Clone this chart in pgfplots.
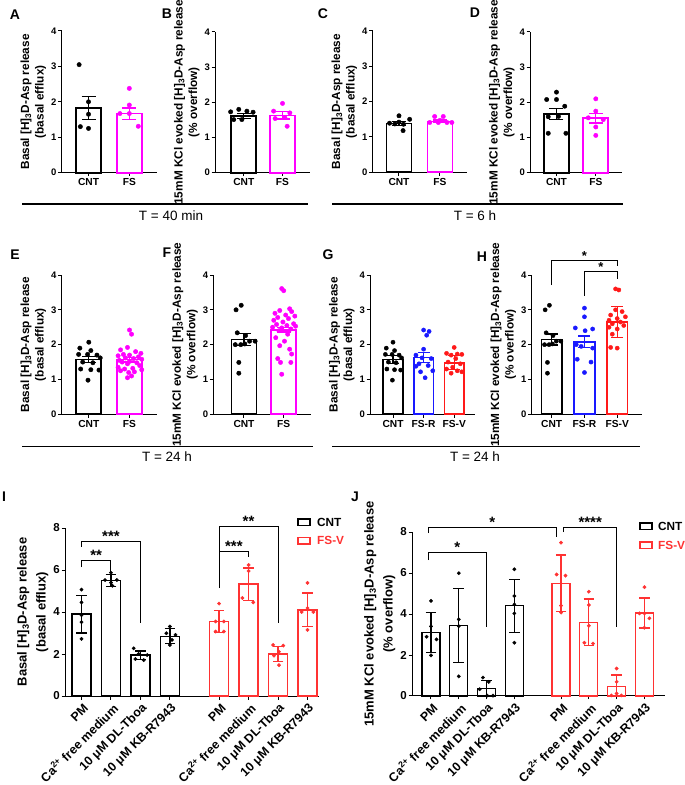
\documentclass[border=0pt]{standalone}
\usepackage{pgfplots}
\pgfplotsset{compat=1.18}
\usepackage{fontspec}
\setmainfont{Liberation Sans}
\definecolor{mag}{RGB}{255,0,255}
\definecolor{myblue}{RGB}{25,25,255}
\definecolor{myred}{RGB}{255,25,25}
\definecolor{myred2}{RGB}{255,50,50}
\newcommand{\fs}[2]{\fontsize{#1}{#2}\selectfont}
\newcommand{\basal}{Basal [H]\textsubscript{3}D-Asp release\\(basal efflux)}
\newcommand{\kcl}{15mM KCl evoked [H]\textsubscript{3}D-Asp release\\(\% overflow)}
\pgfplotsset{
  pp/.style={scale only axis, clip=false, anchor=south west,
    axis lines=left, axis line style={-, line width=1pt},
    ymin=0, ymax=4, ytick={0,1,2,3,4},
    tick align=outside, major tick length=3.5pt,
    tick style={black, line width=1pt},
    /pgf/number format/assume math mode=true,
    yticklabel style={font=\bfseries\fs{9.5}{10}, inner sep=1.5pt},
    xticklabel style={font=\bfseries\fs{10.2}{11}, inner sep=2pt},
    ylabel style={font=\bfseries\fs{11.8}{14.5}, align=center},
  },
  big/.style={ymax=8, ytick={0,2,4,6,8},
    yticklabel style={font=\bfseries\fs{11.5}{12}, inner sep=1.5pt},
    xticklabel style={font=\bfseries\fs{12.4}{14}, rotate=45, anchor=east, inner sep=0pt, yshift=-8pt, xshift=-1.5pt},
    ylabel style={font=\bfseries\fs{13}{19}, align=center},
    xtick={0,1,2,3,4.67,5.67,6.67,7.67},
    xticklabels={PM, Ca\textsuperscript{2+} free medium, 10 μM DL-Tboa, 10 μM KB-R7943,
                 PM, Ca\textsuperscript{2+} free medium, 10 μM DL-Tboa, 10 μM KB-R7943},
  },
  bb/.style n args={4}{ybar, bar shift=0pt, bar width=#2, draw=#1, fill=white, line width=#3,
    error bars/.cd, y dir=both, y explicit,
    error bar style={line width=1.3pt, draw=#1},
    error mark options={rotate=90, mark size=#4, line width=1.3pt, draw=#1}},
  dots/.style 2 args={only marks, mark=*, mark size=#2, color=#1},
}
\begin{document}
\begin{tikzpicture}[x=1pt,y=1pt]
\useasboundingbox (0,0) rectangle (685,785);

% ---------- letters and time lines ----------
\begin{scope}[every node/.style={font=\bfseries\fs{14}{16}}]
\node at (15,770) {A};
\node at (167,771) {B};
\node at (323,771) {C};
\node at (475,772) {D};
\node at (15,530) {E};
\node at (167,532) {F};
\node at (328,530) {G};
\node at (482,528) {H};
\node at (4,288) {I};
\node at (355,288) {J};
\end{scope}
\draw[line width=1.3pt] (22,581) -- (308,581);
\draw[line width=1.3pt] (332,581) -- (623,581);
\draw[line width=1.3pt] (22,338.3) -- (313,338.3);
\draw[line width=1.3pt] (332,338.3) -- (640,338.3);
\begin{scope}[every node/.style={font=\fs{13.5}{16}}]
\node at (171,569) {T = 40 min};
\node at (475,569) {T = 6 h};
\node at (167,328) {T = 24 h};
\node at (475,328) {T = 24 h};
\end{scope}

% ---------- A ----------
\begin{axis}[pp, at={(61.7pt,612.3pt)}, width=95pt, height=141.7pt, xmin=0.343, xmax=2.671,
  xtick={1,2}, xticklabels={CNT,FS}, ylabel={\basal}]
\addplot[bb={black}{25pt}{1.7pt}{7pt}] coordinates {(1,1.83) +- (0,0.33)};
\addplot[bb={mag}{25pt}{1.7pt}{7pt}] coordinates {(2,1.67) +- (0,0.16)};
\addplot[dots={black}{2.2pt}] coordinates {(0.77,3.05)(1,2.0)(1,1.65)(0.8,1.3)(1,1.25)};
\addplot[dots={mag}{2.2pt}] coordinates {(2,2.38)(2,1.91)(1.77,1.67)(2,1.67)(2.22,1.31)};
\end{axis}

% ---------- B ----------
\begin{axis}[pp, at={(215pt,612.3pt)}, width=95pt, height=140.7pt, xmin=0.256, xmax=2.71,
  xtick={1,2}, xticklabels={CNT,FS}, ylabel={\kcl}]
\addplot[bb={black}{25pt}{1.7pt}{7pt}] coordinates {(1,1.61) +- (0,0.07)};
\addplot[bb={mag}{25pt}{1.7pt}{7pt}] coordinates {(2,1.63) +- (0,0.1)};
\addplot[dots={black}{2.2pt}] coordinates {(0.87,1.8)(0.66,1.73)(1.08,1.75)(0.74,1.51)(0.95,1.51)(1.24,1.72)};
\addplot[dots={mag}{2.2pt}] coordinates {(2,1.97)(1.77,1.75)(2.19,1.7)(1.81,1.54)(2.06,1.57)(2.12,1.32)};
\end{axis}

% ---------- C ----------
\begin{axis}[pp, at={(372.7pt,612.7pt)}, width=94.3pt, height=141.3pt, xmin=0.359, xmax=2.659,
  xtick={1,2}, xticklabels={CNT,FS}, ylabel={\basal}]
\addplot[bb={black}{25pt}{1.7pt}{7pt}] coordinates {(1,1.38) +- (0,0.05)};
\addplot[bb={mag}{25pt}{1.7pt}{7pt}] coordinates {(2,1.44) +- (0,0.04)};
\addplot[dots={black}{2.2pt}] coordinates {(1,1.6)(0.77,1.39)(0.9,1.37)(1.26,1.5)(1.11,1.36)(1.1,1.18)(1.0,1.42)};
\addplot[dots={mag}{2.2pt}] coordinates {(1.87,1.58)(2.08,1.58)(1.75,1.41)(1.96,1.41)(2.17,1.41)(2.29,1.41)(2.0,1.47)};
\end{axis}

% ---------- D ----------
\begin{axis}[pp, at={(530pt,612.3pt)}, width=92pt, height=140.7pt, xmin=0.326, xmax=2.667,
  xtick={1,2}, xticklabels={CNT,FS}, ylabel={\kcl}]
\addplot[bb={black}{25pt}{1.7pt}{7pt}] coordinates {(1,1.67) +- (0,0.15)};
\addplot[bb={mag}{25pt}{1.7pt}{7pt}] coordinates {(2,1.55) +- (0,0.14)};
\addplot[dots={black}{2.2pt}] coordinates {(1,2.29)(0.75,2.08)(1,2.08)(1.21,1.89)(0.79,1.59)(1.05,1.6)(0.79,1.12)(1.24,1.12)};
\addplot[dots={mag}{2.2pt}] coordinates {(2,2.1)(2,1.75)(1.81,1.56)(2.19,1.51)(2,1.3)(2,1.06)};
\end{axis}

% ---------- E ----------
\begin{axis}[pp, at={(61.7pt,370.7pt)}, width=95pt, height=139.3pt, xmin=0.334, xmax=2.668,
  xtick={1,2}, xticklabels={CNT,FS}, ylabel={\basal}]
\addplot[bb={black}{25pt}{1.7pt}{7pt}] coordinates {(1,1.57) +- (0,0.09)};
\addplot[bb={mag}{25pt}{1.7pt}{7pt}] coordinates {(2,1.57) +- (0,0.07)};
\addplot[dots={black}{2.2pt}] coordinates {(1.0,2.07)(0.78,1.9)(1.05,1.83)(0.75,1.72)(0.97,1.72)(1.2,1.7)(1.28,1.62)(0.85,1.5)(1.1,1.48)(0.8,1.3)(1.05,1.28)(1.25,1.27)(0.98,0.98)};
\addplot[dots={mag}{2.2pt}] coordinates {(2.0,2.42)(2.05,2.3)(1.95,1.92)(1.78,1.85)(2.15,1.8)(2.28,1.75)(1.85,1.72)(2.0,1.7)(1.72,1.68)(2.22,1.65)(1.9,1.62)(2.1,1.6)(2.3,1.58)(1.75,1.55)(2.0,1.52)(1.82,1.5)(2.18,1.48)(1.95,1.45)(2.25,1.4)(1.72,1.35)(2.08,1.32)(1.88,1.3)(2.3,1.28)(1.78,1.25)(2.12,1.22)(1.98,1.2)(2.05,1.1)(1.95,1.05)};
\end{axis}

% ---------- F ----------
\begin{axis}[pp, at={(213.3pt,370.7pt)}, width=98pt, height=139.3pt, xmin=0.227, xmax=2.695,
  xtick={1,2}, xticklabels={CNT,FS}, ylabel={\kcl}]
\addplot[bb={black}{25pt}{1.7pt}{7pt}] coordinates {(1,2.15) +- (0,0.17)};
\addplot[bb={mag}{25pt}{1.7pt}{7pt}] coordinates {(2,2.43) +- (0,0.07)};
\addplot[dots={black}{2.2pt}] coordinates {(0.93,3.13)(0.8,3.0)(0.83,2.34)(1.04,2.26)(0.78,2.0)(0.92,2.0)(1.14,2.1)(1.28,2.1)(1.02,2.02)(0.87,1.49)(0.87,1.18)};
\addplot[dots={mag}{2.2pt}] coordinates {(1.95,3.61)(2.0,3.55)(2.15,3.03)(1.9,2.98)(2.2,2.95)(1.78,2.9)(2.05,2.85)(2.28,2.82)(1.85,2.78)(2.12,2.75)(1.75,2.7)(1.98,2.65)(2.25,2.6)(1.82,2.58)(2.08,2.55)(2.3,2.53)(1.72,2.5)(1.95,2.48)(2.18,2.45)(1.88,2.4)(2.1,2.3)(1.8,2.2)(2.02,2.1)(1.9,1.97)(2.15,1.87)(2.2,1.73)(1.85,1.6)(1.92,1.49)(2.18,1.49)(1.95,1.15)};
\end{axis}

% ---------- G ----------
\begin{axis}[pp, at={(370pt,370.7pt)}, width=105pt, height=139.3pt, xmin=0.248, xmax=3.68,
  xtick={1,2,3}, xticklabels={CNT,FS-R,FS-V}, ylabel={\basal}]
\addplot[bb={black}{19.5pt}{1.6pt}{6pt}] coordinates {(1,1.57) +- (0,0.11)};
\addplot[bb={myblue}{19.5pt}{1.6pt}{6pt}] coordinates {(2,1.63) +- (0,0.14)};
\addplot[bb={myred}{19.5pt}{1.6pt}{6pt}] coordinates {(3,1.48) +- (0,0.2)};
\addplot[dots={black}{2.1pt}] coordinates {(1.0,2.07)(0.78,1.9)(1.05,1.83)(0.75,1.72)(0.97,1.72)(1.2,1.7)(1.28,1.62)(0.85,1.5)(1.1,1.48)(0.8,1.3)(1.05,1.28)(1.25,1.27)(0.98,0.98)};
\addplot[dots={myblue}{2.1pt}] coordinates {(2.0,2.42)(2.18,2.38)(2.1,2.27)(2.0,1.87)(1.75,1.7)(1.95,1.62)(2.25,1.6)(1.85,1.45)(2.15,1.4)(1.75,1.38)(2.3,1.25)(1.9,1.22)(2.05,1.05)};
\addplot[dots={myred}{2.1pt}] coordinates {(3.0,1.92)(2.75,1.75)(3.1,1.73)(3.25,1.72)(2.9,1.7)(3.05,1.6)(2.8,1.5)(3.2,1.45)(2.95,1.35)(2.75,1.3)(3.1,1.25)(3.25,1.22)(2.9,1.18)};
\end{axis}

% ---------- H ----------
\begin{axis}[pp, at={(531.7pt,370.7pt)}, width=110pt, height=139.3pt, xmin=0.389, xmax=3.748,
  xtick={1,2,3}, xticklabels={CNT,FS-R,FS-V}, ylabel={\kcl}]
\addplot[bb={black}{20.5pt}{1.6pt}{6pt}] coordinates {(1,2.15) +- (0,0.16)};
\addplot[bb={myblue}{20.5pt}{1.6pt}{6pt}] coordinates {(2,2.08) +- (0,0.17)};
\addplot[bb={myred}{20.5pt}{1.6pt}{6pt}] coordinates {(3,2.65) +- (0,0.45)};
\addplot[dots={black}{2.1pt}] coordinates {(0.93,3.13)(0.8,3.0)(0.83,2.34)(1.04,2.26)(0.78,2.0)(0.92,2.0)(1.14,2.1)(1.28,2.1)(1.02,2.02)(0.87,1.49)(0.87,1.18)};
\addplot[dots={myblue}{2.1pt}] coordinates {(2.0,3.05)(2.0,2.8)(1.72,2.48)(2.25,2.45)(2.02,2.4)(1.75,2.0)(1.9,1.95)(2.25,1.9)(1.78,1.58)(2.2,1.5)(2.0,1.2)};
\addplot[dots={myred}{2.1pt}] coordinates {(2.95,3.6)(3.05,3.57)(2.95,3.0)(3.15,2.95)(2.8,2.85)(3.25,2.8)(3.0,2.75)(2.75,2.7)(3.1,2.65)(2.85,2.6)(3.2,2.55)(2.75,2.5)(3.0,2.45)(2.85,2.3)(2.8,1.92)(3.0,1.9)};
\draw[line width=1pt] (axis cs:1,3.71) -- (axis cs:1,4.43) -- (axis cs:3,4.43) -- (axis cs:3,4.26);
\draw[line width=1pt] (axis cs:2,3.4) -- (axis cs:2,4.09) -- (axis cs:3,4.09) -- (axis cs:3,3.88);
\node[anchor=base, font=\bfseries\fs{13}{14}, inner sep=0pt] at (axis cs:2,4.43) {*};
\node[anchor=base, font=\bfseries\fs{13}{14}, inner sep=0pt] at (axis cs:2.5,4.09) {*};
\end{axis}

% ---------- I ----------
\begin{axis}[pp, big, at={(65pt,89pt)}, width=254pt, height=168pt, xmin=-0.56, xmax=8.06,
  ylabel={\basal}]
\addplot[bb={black}{19pt}{1.3pt}{5.3pt}] coordinates {(0,3.9) +- (0,0.9) (1,5.5) +- (0,0.3) (2,1.95) +- (0,0.2) (3,2.85) +- (0,0.35)};
\addplot[bb={myred2}{19pt}{1.3pt}{5.3pt}] coordinates {(4.67,3.55) +- (0,0.52) (5.67,5.33) +- (0,0.77) (6.67,2.0) +- (0,0.35) (7.67,4.1) +- (0,0.8)};
\addplot[dots={black}{1.7pt}] coordinates {(0,5.07)(0,4.46)(0,3.85)(0,3.52)(0,2.72)
  (1,5.87)(0.8,5.52)(1.0,5.4)(1.2,5.52)(1.05,5.25)
  (1.77,2.27)(1.94,2.0)(2.11,1.71)(2.23,1.95)(1.83,1.76)
  (3,3.31)(2.88,2.99)(3.19,2.91)(3.07,2.67)(3,2.43)};
\addplot[dots={myred2}{1.7pt}] coordinates {(4.67,4.4)(4.55,3.55)(4.83,3.55)(4.55,3.07)(4.83,3.07)
  (5.67,6.24)(5.67,5.95)(5.46,4.67)(5.83,4.46)
  (6.5,2.43)(6.85,2.4)(6.7,2.11)(6.53,1.92)(6.7,1.47)
  (7.67,5.39)(7.47,4.0)(7.67,4.19)(7.87,4.0)(7.67,3.15)};
\draw[line width=1pt] (axis cs:0,7.1) -- (axis cs:0,7.38) -- (axis cs:2,7.38) -- (axis cs:2,3.48);
\draw[line width=1pt] (axis cs:0,6.14) -- (axis cs:0,6.43) -- (axis cs:1,6.43) -- (axis cs:1,5.9);
\draw[line width=1pt] (axis cs:4.67,5.14) -- (axis cs:4.67,8.05) -- (axis cs:6.67,8.05) -- (axis cs:6.67,3.48);
\draw[line width=1pt] (axis cs:4.67,6.86) -- (axis cs:5.67,6.86) -- (axis cs:5.67,6.62);
\begin{scope}[every node/.style={anchor=base, font=\bfseries\fs{15}{16}, inner sep=0pt}]
\node at (axis cs:1,7.38) {***};
\node at (axis cs:0.5,6.43) {**};
\node at (axis cs:5.67,8.05) {**};
\node at (axis cs:5.17,6.86) {***};
\end{scope}
\end{axis}

% ---------- J ----------
\begin{axis}[pp, big, at={(412pt,89pt)}, width=253pt, height=164pt, xmin=-0.683, xmax=8.42,
  xtick={0,1,2,3,4.68,5.68,6.68,7.68}, ylabel={\kcl}]
\addplot[bb={black}{18pt}{1.3pt}{5.3pt}] coordinates {(0,3.1) +- (0,0.97) (1,3.45) +- (0,1.8) (2,0.35) += (0,0.4) -= (0,0.35) (3,4.4) +- (0,1.3)};
\addplot[bb={myred2}{18pt}{1.3pt}{5.3pt}] coordinates {(4.68,5.5) +- (0,1.38) (5.68,3.6) +- (0,1.13) (6.68,0.45) += (0,0.58) -= (0,0.45) (7.68,4.05) +- (0,0.73)};
\addplot[dots={black}{1.7pt}] coordinates {(0,4.64)(0,3.4)(-0.16,2.89)(0.2,2.76)(0,1.98)
  (1,5.99)(1,3.74)(1,3.41)(1,0.96)
  (1.87,0.9)(2.08,0.69)(1.75,0.33)(2.02,0.02)(2.23,0.02)
  (3,6.18)(3,4.88)(3,4.47)(3,4.03)(3,2.6)};
\addplot[dots={myred2}{1.7pt}] coordinates {(4.68,7.48)(4.52,5.93)(4.84,5.87)(4.68,4.41)(4.68,4.07)
  (5.68,5.09)(5.68,4.44)(5.68,3.43)(5.52,2.6)(5.83,2.56)
  (6.68,1.34)(6.68,0.69)(6.49,0.03)(6.85,0.03)(6.68,0.12)
  (7.68,5.31)(7.5,4.03)(7.68,4.03)(7.86,3.79)(7.68,3.33)};
\draw[line width=1pt] (axis cs:-0.1,7.95) -- (axis cs:-0.1,8.2) -- (axis cs:4.52,8.2) -- (axis cs:4.52,7.76);
\draw[line width=1pt] (axis cs:4.78,8.0) -- (axis cs:4.78,8.2) -- (axis cs:6.68,8.2) -- (axis cs:6.68,3.37);
\draw[line width=1pt] (axis cs:-0.1,6.63) -- (axis cs:-0.1,7.02) -- (axis cs:2,7.02) -- (axis cs:2,3.37);
\begin{scope}[every node/.style={anchor=base, font=\bfseries\fs{15}{16}, inner sep=0pt}]
\node at (axis cs:2.21,8.2) {*};
\node at (axis cs:5.73,8.2) {****};
\node at (axis cs:0.95,7.02) {*};
\end{scope}
\end{axis}

% ---------- legends ----------
\draw[line width=1.3pt, black] (298,259.5) rectangle (310,266);
\draw[line width=1.3pt, myred2] (298,241) rectangle (310,247.5);
\node[anchor=west, font=\bfseries\fs{11.8}{13}, inner sep=0pt] at (317,262.7) {CNT};
\node[anchor=west, font=\bfseries\fs{11.8}{13}, inner sep=0pt, myred2] at (317,244.2) {FS-V};
\draw[line width=1.3pt, black] (640,255.5) rectangle (652,262);
\draw[line width=1.3pt, myred2] (640,236.5) rectangle (652,243);
\node[anchor=west, font=\bfseries\fs{11.8}{13}, inner sep=0pt] at (658,258.7) {CNT};
\node[anchor=west, font=\bfseries\fs{11.8}{13}, inner sep=0pt, myred2] at (658,239.7) {FS-V};
\end{tikzpicture}
\end{document}
